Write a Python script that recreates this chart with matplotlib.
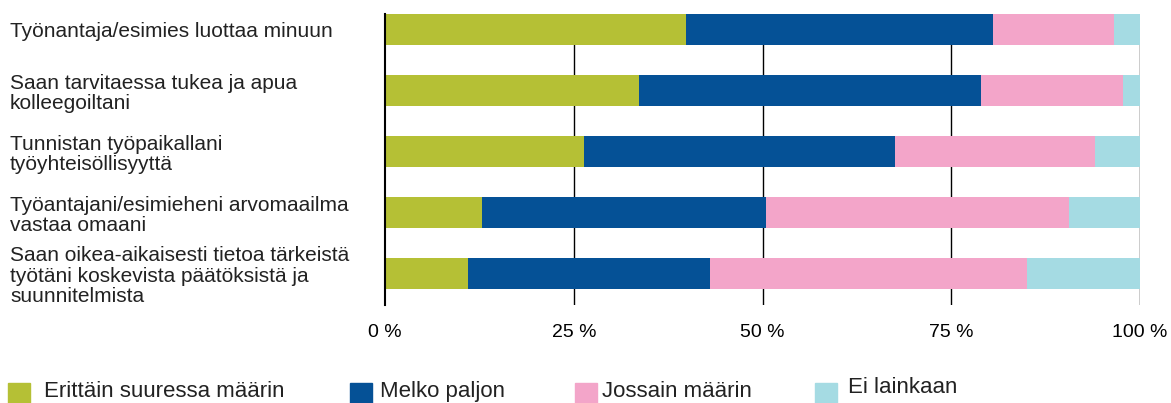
import matplotlib.pyplot as plt
from matplotlib.patches import Rectangle

plt.rcParams['font.family'] = ['Liberation Sans', 'DejaVu Sans']

categories = ["Työnantaja/esimies luottaa minuun",
              "Saan tarvitaessa tukea ja apua\nkolleegoiltani",
              "Tunnistan työpaikallani\ntyöyhteisöllisyyttä",
              "Työantajani/esimieheni arvomaailma\nvastaa omaani",
              "Saan oikea-aikaisesti tietoa tärkeistä\ntyötäni koskevista päätöksistä ja\nsuunnitelmista"]
series_names = ["Erittäin suuressa määrin", "Melko paljon", "Jossain määrin", "Ei lainkaan"]
erittain = [39.9, 33.6, 26.4, 12.8, 11.0]
melko = [40.6, 45.3, 41.1, 37.7, 32.0]
jossain = [16.1, 18.9, 26.5, 40.1, 42.0]
ei = [3.4, 2.2, 6.0, 9.4, 15.0]
xticks = [0, 25, 50, 75, 100]
xticklabels = ["0 %", "25 %", "50 %", "75 %", "100 %"]

colors = ["#B5C035", "#055196", "#F3A5C9", "#A5DBE3"]

fig = plt.figure(figsize=(11.71, 4.03), dpi=100)
ax = fig.add_axes([385/1171, 1-305/403, 755/1171, 291/403])

ypos = list(range(len(categories)))
left = [0]*len(categories)
for vals, col in zip([erittain, melko, jossain, ei], colors):
    ax.barh(ypos, vals, left=left, height=0.508, color=col, zorder=3)
    left = [l+v for l, v in zip(left, vals)]

for x in xticks[1:]:
    ax.axvline(x, color="black", lw=1, zorder=1)

ax.set_xlim(0, 100)
ax.set_ylim(4.516, -0.254)
for s in ["top", "right", "bottom"]:
    ax.spines[s].set_visible(False)
ax.spines["left"].set_linewidth(1.5)
ax.spines["left"].set_zorder(4)

ax.set_xticks(xticks)
ax.set_xticklabels(xticklabels, fontsize=14)
ax.tick_params(axis="x", length=0, pad=14)
ax.set_yticks(ypos)
ax.set_yticklabels(categories, fontsize=15, color="#222222", linespacing=1.1)
ax.tick_params(axis="y", length=0, pad=270)
for lbl in ax.get_yticklabels():
    lbl.set_horizontalalignment("left")

# legend drawn by hand at the bottom edge
patch_x = [8, 350, 575, 815]
text_x = [44, 380, 602, 848]
text_y = [397, 397, 397, 393]
for name, col, px, tx, ty in zip(series_names, colors, patch_x, text_x, text_y):
    fig.add_artist(Rectangle((px/1171, 0), 22/1171, 20/403, color=col,
                             transform=fig.transFigure))
    fig.text(tx/1171, 1-ty/403, name, fontsize=16, va="baseline", color="#222222")

fig.savefig("out.png", dpi=100)
